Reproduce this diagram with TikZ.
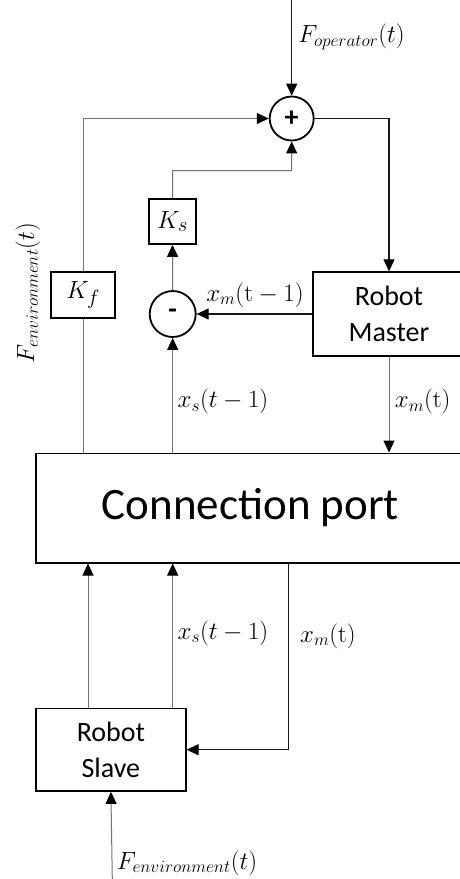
\documentclass[tikz,border=0pt]{standalone}
\usepackage[no-math]{fontspec}
\setmainfont{Carlito}
\usetikzlibrary{arrows.meta}
\begin{document}
\begin{tikzpicture}[x=1pt,y=-1pt,
  box/.style={draw=black,line width=1.6pt,rectangle,inner sep=0pt,align=center},
  sumc/.style={draw=black,line width=1.8pt,circle,inner sep=0pt,minimum size=44pt,font=\bfseries\fontsize{28}{30}\selectfont},
  wire/.style={line width=1pt,draw=black!55},
  dwire/.style={line width=1.1pt,draw=black!90},
  arr/.style={-{Triangle[width=11pt,length=12pt,color=black]}},
  lbl/.style={inner sep=0pt,font=\fontsize{23}{26}\selectfont},
  big/.style={font=\fontsize{28}{36}\selectfont}]
\useasboundingbox (0,0) rectangle (460,879);
% nodes
\node[sumc] (plus) at (291.7,118.5) {+};
\node[sumc,minimum size=46pt] (minus) at (172.7,314) {-};
\node[box,minimum width=47pt,minimum height=45pt,font=\fontsize{28}{30}\selectfont] (Ks) at (172.5,221.5) {$K_s$};
\node[box,minimum width=64pt,minimum height=46pt,font=\fontsize{28}{30}\selectfont] (Kf) at (83,295) {$K_f$};
\node[box,big,minimum width=152.6pt,minimum height=83.7pt] (M) at (389,314) {Robot\\Master};
\node[box,minimum width=429pt,minimum height=109.4pt,font=\fontsize{45}{50}\selectfont] (CP) at (250.5,508) {Connection port};
\node[box,big,minimum width=149.7pt,minimum height=82.7pt] (S) at (110.9,749.7) {Robot\\Slave};
% coordinates
\coordinate (top) at (291.7,0);
\coordinate (ksbend) at (172.7,170.7);
\coordinate (cpdown) at (288.3,562.7);
\coordinate (bot) at (112.3,879);
\coordinate (sl1) at (88,708.3);
% connectors
\draw[dwire,line width=1.5pt,arr] (top) -- (plus.north);
\draw[wire,arr] (Kf.north) |- (plus.west);
\draw[dwire,arr] (plus.east) -| (M.north);
\draw[wire,arr] (Ks.north) -- (ksbend) -| (plus.south);
\draw[wire,arr] (minus.north) -- (Ks.south);
\draw[dwire,arr] (M.west) -- (minus.east);
\draw[wire] (Kf.south) -- (Kf.south |- CP.north);
\draw[wire,arr] (minus.south |- CP.north) -- (minus.south);
\draw[wire,arr] (M.south) -- (M.south |- CP.north);
\draw[wire,arr] (sl1) -- (sl1 |- CP.south);
\draw[wire,arr] (S.north -| minus.south) -- (CP.south -| minus.south);
\draw[dwire,arr] (cpdown) |- (S.east);
\draw[wire,arr] (bot) -- (S.south);
% labels
\node[lbl] (lop) at (351.5,37) {$F_{operator}(t)$};
\node[lbl] (lxm1) at (255,295) {$x_m(\mathrm{t}-1)$};
\node[lbl] (lxs1) at (223,401.7) {$x_s(t-1)$};
\node[lbl] (lxm2) at (422.7,401.7) {$x_m(\mathrm{t})$};
\node[lbl] (lxs2) at (223,633) {$x_s(t-1)$};
\node[lbl] (lxm3) at (328,636) {$x_m(\mathrm{t})$};
\node[lbl] (lenv) at (187,863) {$F_{environment}(t)$};
\node[lbl,rotate=90] (lenv2) at (28,293) {$F_{environment}(t)$};
\end{tikzpicture}
\end{document}
